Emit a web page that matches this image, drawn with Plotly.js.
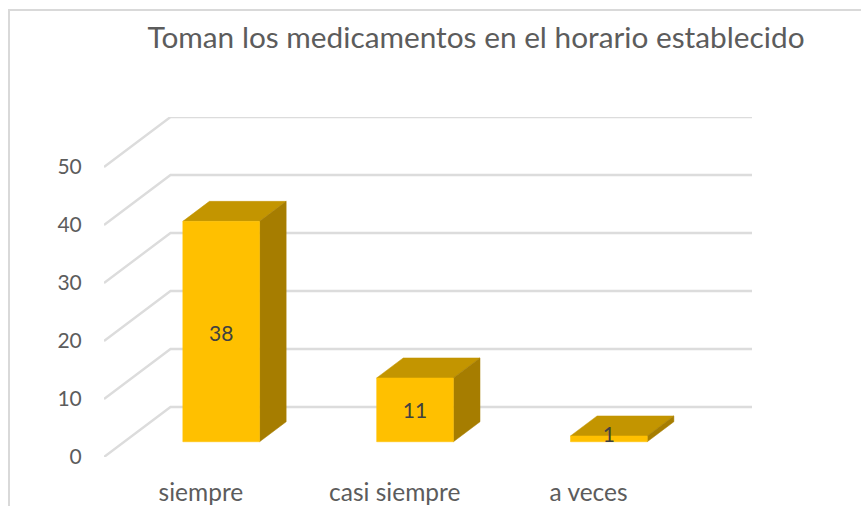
<!DOCTYPE html>
<html>
<head>
<meta charset="utf-8">
<script src="https://cdn.plot.ly/plotly-3.0.1.min.js"></script>
<style>
html,body{margin:0;padding:0;background:#fff;overflow:hidden}
#frame{position:absolute;left:8px;top:9px;width:853px;height:497px;border-top:2px solid #D9D9D9;border-left:2px solid #D9D9D9;box-sizing:border-box}
#chart{position:absolute;left:0;top:0;width:861px;height:506px}
</style>
</head>
<body>
<div id="frame"></div>
<div id="chart"></div>
<script>
const titleText = "Toman los medicamentos en el horario establecido";
const categories = ["siempre", "casi siempre", "a veces"];
const values = [38, 11, 1];
const yTicks = [0, 10, 20, 30, 40, 50];
const labelHeights = [18.3, 5.0, 0.9];

// projection of the oblique 3D look, in axis units
const depthX = 0.343, depthY = 8.62;
const barHalf = 0.198, barNear = 0.305, barFar = 0.705;
const xStart = -0.5, xEnd = categories.length - 0.5 + depthX;

const FRONT = "#FFC000", TOP = "#C39500", SIDE = "#A67D00", GRID = "#DCDCDC", INK = "#5C5C5C";
const P = (x, v, d) => [x + d * depthX, v + d * depthY];

function poly(points, color) {
  const c = points.concat([points[0]]);
  return {type: "scatter", mode: "lines", x: c.map(p => p[0]), y: c.map(p => p[1]),
    fill: "toself", fillcolor: color, line: {color: color, width: 0.5},
    hoverinfo: "skip", cliponaxis: false};
}

const traces = [];
yTicks.forEach(t => {
  traces.push({type: "scatter", mode: "lines",
    x: [xStart, xStart + depthX, xEnd], y: [t, t + depthY, t + depthY],
    line: {color: GRID, width: 2.4}, hoverinfo: "skip", cliponaxis: false});
});
values.forEach((v, i) => {
  const l = i - barHalf, r = i + barHalf;
  traces.push(poly([P(l, v, barNear), P(r, v, barNear), P(r, v, barFar), P(l, v, barFar)], TOP));
  traces.push(poly([P(r, 0, barNear), P(r, 0, barFar), P(r, v, barFar), P(r, v, barNear)], SIDE));
  traces.push(poly([P(l, 0, barNear), P(r, 0, barNear), P(r, v, barNear), P(l, v, barNear)], FRONT));
});
traces.push({type: "scatter", mode: "text",
  x: values.map((v, i) => P(i, labelHeights[i], barNear)[0]),
  y: values.map((v, i) => P(i, labelHeights[i], barNear)[1]),
  text: values.map(String), textposition: "middle center",
  textfont: {family: "Lato, sans-serif", size: 21, color: "#404040"},
  hoverinfo: "skip", cliponaxis: false});

const layout = {
  width: 861, height: 506,
  margin: {l: 103.5, r: 109, t: 116.5, b: 49, pad: 0},
  paper_bgcolor: "rgba(0,0,0,0)", plot_bgcolor: "rgba(0,0,0,0)",
  showlegend: false, hovermode: false,
  title: {text: titleText, x: 476 / 861, xanchor: "center", y: 1 - 38 / 506, yanchor: "middle",
    font: {family: "Lato, sans-serif", size: 29.8, color: INK}},
  xaxis: {range: [xStart, xEnd], tickvals: categories.map((c, i) => i), ticktext: categories,
    showgrid: false, zeroline: false, showline: false,
    ticks: "outside", ticklen: 14, tickcolor: "rgba(0,0,0,0)", tickangle: 0,
    tickfont: {family: "Lato, sans-serif", size: 24.5, color: INK}},
  yaxis: {range: [0, 50 + depthY], tickvals: yTicks, ticktext: yTicks.map(String),
    showgrid: false, zeroline: false, showline: false,
    ticks: "outside", ticklen: 17, tickcolor: "rgba(0,0,0,0)",
    tickfont: {family: "Lato, sans-serif", size: 21, color: INK}}
};
Plotly.newPlot("chart", traces, layout, {displayModeBar: false, staticPlot: true});
</script>
</body>
</html>
